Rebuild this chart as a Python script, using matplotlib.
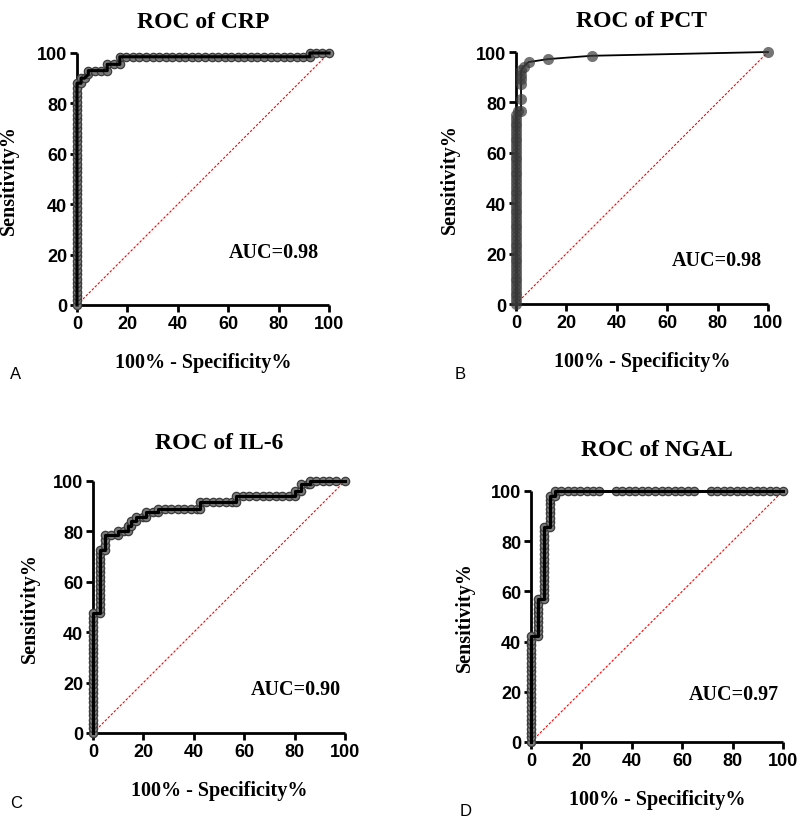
import matplotlib
matplotlib.use("Agg")
import matplotlib.pyplot as plt
from matplotlib import font_manager as fm

# ---------------- data (100% - specificity %, sensitivity %) ----------------
crp_points = [
    (0, 0.0), (0, 1.8), (0, 3.5), (0, 5.3), (0, 7.0), (0, 8.8), (0, 10.5), (0, 12.3), (0, 14.0),
    (0, 15.8), (0, 17.5), (0, 19.3), (0, 21.1), (0, 22.8), (0, 24.6), (0, 26.3), (0, 28.1),
    (0, 29.8), (0, 31.6), (0, 33.3), (0, 35.1), (0, 36.8), (0, 38.6), (0, 40.4), (0, 42.1),
    (0, 43.9), (0, 45.6), (0, 47.4), (0, 49.1), (0, 50.9), (0, 52.6), (0, 54.4), (0, 56.1),
    (0, 57.9), (0, 59.6), (0, 61.4), (0, 63.2), (0, 64.9), (0, 66.7), (0, 68.4), (0, 70.2),
    (0, 71.9), (0, 73.7), (0, 75.4), (0, 77.2), (0, 78.9), (0, 80.7), (0, 82.5), (0, 84.2),
    (0, 86.0), (0, 88.0),
    (1.6, 88.0), (1.6, 90.0), (3.0, 90.0), (4.5, 91.5), (4.5, 93.0), (7.0, 93.0), (9.5, 93.0),
    (12.0, 93.0), (12.0, 95.5), (14.5, 95.5), (17.0, 95.5), (17.0, 98.5),
    (19.6, 98.5), (22.2, 98.5), (24.8, 98.5), (27.4, 98.5), (30.0, 98.5), (32.6, 98.5),
    (35.2, 98.5), (37.8, 98.5), (40.4, 98.5), (43.0, 98.5), (45.6, 98.5), (48.2, 98.5),
    (50.8, 98.5), (53.4, 98.5), (56.0, 98.5), (58.6, 98.5), (61.2, 98.5), (63.8, 98.5),
    (66.4, 98.5), (69.0, 98.5), (71.6, 98.5), (74.2, 98.5), (76.8, 98.5), (79.4, 98.5),
    (82.0, 98.5), (84.6, 98.5), (87.2, 98.5), (89.8, 98.5), (92.4, 98.5),
    (92.4, 100), (94.9, 100), (97.4, 100), (100, 100),
]

pct_points = [
    (0, 0.0), (0, 1.5), (0, 3.0), (0, 4.5), (0, 6.0), (0, 7.5), (0, 9.0), (0, 10.5), (0, 12.0),
    (0, 13.5), (0, 15.0), (0, 16.5), (0, 18.0), (0, 19.5), (0, 21.0), (0, 22.5), (0, 24.0),
    (0, 25.5), (0, 27.0), (0, 28.5), (0, 30.0), (0, 31.5), (0, 33.0), (0, 34.5), (0, 36.0),
    (0, 37.5), (0, 39.0), (0, 40.5), (0, 42.0), (0, 43.5), (0, 45.0), (0, 46.5), (0, 48.0),
    (0, 49.5), (0, 51.0), (0, 52.5), (0, 54.0), (0, 55.5), (0, 57.0), (0, 58.5), (0, 60.0),
    (0, 61.5), (0, 63.0), (0, 64.5), (0, 66.0), (0, 67.5), (0, 69.0), (0, 70.5), (0, 72.0),
    (0, 73.5), (0, 75.0),
    (0.6, 76.7), (2.0, 76.7), (2.0, 81.3), (2.0, 87.5), (2.0, 89.3), (2.0, 91.0), (2.0, 92.7),
    (3.0, 94.2), (5.0, 96.0), (12.8, 97.2), (30.0, 98.5), (100, 100),
]

il6_points = [
    (0, 0.0), (0, 1.8), (0, 3.5), (0, 5.3), (0, 7.0), (0, 8.8), (0, 10.5), (0, 12.3), (0, 14.0),
    (0, 15.8), (0, 17.5), (0, 19.3), (0, 21.1), (0, 22.8), (0, 24.6), (0, 26.3), (0, 28.1),
    (0, 29.8), (0, 31.6), (0, 33.3), (0, 35.1), (0, 36.8), (0, 38.6), (0, 40.4), (0, 42.1),
    (0, 43.9), (0, 45.6), (0, 47.6),
    (2.6, 47.6), (2.6, 49.4), (2.6, 51.2), (2.6, 53.0), (2.6, 54.8), (2.6, 56.6), (2.6, 58.4),
    (2.6, 60.2), (2.6, 62.0), (2.6, 63.8), (2.6, 65.6), (2.6, 67.4), (2.6, 69.2), (2.6, 71.0),
    (2.6, 72.6),
    (4.6, 72.6), (4.6, 74.6), (4.6, 76.5), (4.6, 78.4),
    (7.2, 78.4), (9.8, 78.4), (9.8, 80.3), (12.4, 80.3), (13.9, 80.3), (13.9, 82.1),
    (15.2, 82.1), (15.2, 84.0), (17.2, 84.0), (17.2, 85.8), (19.8, 85.8), (21.2, 85.8),
    (21.2, 87.6), (23.8, 87.6), (25.8, 87.6), (25.8, 89.0), (28.4, 89.0), (31.0, 89.0),
    (33.6, 89.0), (36.2, 89.0), (38.8, 89.0), (41.4, 89.0), (42.3, 89.0), (42.3, 91.5),
    (44.9, 91.5), (47.5, 91.5), (50.1, 91.5), (52.7, 91.5), (55.3, 91.5), (56.9, 91.5),
    (56.9, 94.2), (59.5, 94.2), (62.1, 94.2), (64.7, 94.2), (67.3, 94.2), (69.9, 94.2),
    (72.5, 94.2), (75.1, 94.2), (77.7, 94.2), (80.0, 94.2), (80.0, 96.2), (82.7, 96.2),
    (82.7, 98.8), (85.3, 98.8), (86.0, 98.8), (86.0, 100), (88.6, 100), (91.2, 100),
    (93.8, 100), (96.4, 100), (100, 100),
]

ngal_points = [
    (0, 0.0), (0, 1.8), (0, 3.5), (0, 5.3), (0, 7.0), (0, 8.8), (0, 10.5), (0, 12.3), (0, 14.0),
    (0, 15.8), (0, 17.5), (0, 19.3), (0, 21.1), (0, 22.8), (0, 24.6), (0, 26.3), (0, 28.1),
    (0, 29.8), (0, 31.6), (0, 33.3), (0, 35.1), (0, 36.8), (0, 38.6), (0, 40.4), (0, 42.3),
    (2.7, 42.3), (2.7, 44.1), (2.7, 45.9), (2.7, 47.7), (2.7, 49.5), (2.7, 51.3), (2.7, 53.1),
    (2.7, 54.9), (2.7, 56.9),
    (5.2, 56.9), (5.2, 58.7), (5.2, 60.5), (5.2, 62.3), (5.2, 64.1), (5.2, 65.9), (5.2, 67.7),
    (5.2, 69.5), (5.2, 71.3), (5.2, 73.1), (5.2, 74.9), (5.2, 76.7), (5.2, 78.5), (5.2, 80.3),
    (5.2, 82.1), (5.2, 83.9), (5.2, 85.8),
    (7.6, 85.8), (7.6, 87.6), (7.6, 89.4), (7.6, 91.2), (7.6, 93.0), (7.6, 94.8), (7.6, 96.6),
    (7.6, 98.2), (9.6, 98.2), (9.6, 100),
    (12.1, 100), (14.6, 100), (17.1, 100), (19.6, 100), (22.1, 100), (24.6, 100), (27.1, 100),
    (33.6, 100), (36.2, 100), (38.8, 100), (41.4, 100), (44.0, 100), (46.6, 100), (49.2, 100),
    (51.8, 100), (54.4, 100), (57.0, 100), (59.6, 100), (62.2, 100), (64.8, 100),
    (71.3, 100), (73.9, 100), (76.5, 100), (79.1, 100), (81.7, 100), (84.3, 100), (86.9, 100),
    (89.5, 100), (92.1, 100), (94.7, 100), (97.3, 100), (100, 100),
]

titles = ["ROC of CRP", "ROC of PCT", "ROC of IL-6", "ROC of NGAL"]
auc_labels = ["AUC=0.98", "AUC=0.98", "AUC=0.90", "AUC=0.97"]
panel_letters = ["A", "B", "C", "D"]
ticks = [0, 20, 40, 60, 80, 100]


def find_font(name, bold):
    """Return a file path of a regular-width face of `name`, or None."""
    want = 700 if bold else 400
    best = None
    for f in fm.fontManager.ttflist:
        if f.name != name or f.style != "normal":
            continue
        if "Narrow" in f.fname or "narrow" in f.fname.lower():
            continue
        w = f.weight if isinstance(f.weight, int) else (700 if "bold" in str(f.weight) else 400)
        if w == want:
            return f.fname
        best = best or None
    return best


def props(name, fallback, bold, size):
    path = find_font(name, bold)
    if path:
        return fm.FontProperties(fname=path, size=size)
    return fm.FontProperties(family=fallback, weight="bold" if bold else "normal", size=size)


SANS_B = lambda s: props("Liberation Sans", ["DejaVu Sans"], True, s)
SANS_R = lambda s: props("Liberation Sans", ["DejaVu Sans"], False, s)
SERIF_B = lambda s: props("Liberation Serif", ["DejaVu Serif"], True, s)

# ---------------- layout ----------------
W, H = 800, 820
fig = plt.figure(figsize=(W / 100, H / 100), dpi=100)

# axes boxes in pixels: (left, top, right, bottom)
boxes = [(77, 54, 329, 306), (516, 53, 768, 305), (93, 482, 345, 734), (531, 492, 783, 743)]
auc_pos = [(78.1, 20.9), (79.6, 17.5), (80.4, 17.5), (80.6, 19.1)]
title_pad = [19, 19, 24, 26]
letter_pos = [(10, 375), (455, 375), (10, 804), (460, 812)]
ylabel_x = [-0.230, -0.222, -0.210, -0.222]

all_points = [crp_points, pct_points, il6_points, ngal_points]

for i, pts in enumerate(all_points):
    l, t, r, b = boxes[i]
    ax = fig.add_axes([l / W, (H - b) / H, (r - l) / W, (b - t) / H])
    fpr = [p[0] for p in pts]
    sens = [p[1] for p in pts]

    # reference diagonal
    ax.plot([0, 100], [0, 100], color="red", lw=0.8, ls=(0, (2.2, 1.6)), zorder=1,
            clip_on=False)

    if i == 1:
        ax.plot(fpr, sens, color="black", lw=1.3, zorder=3, clip_on=False)
        ax.plot(fpr, sens, ls="none", marker="o", ms=8, mfc="#3a3a3a", mec="none",
                alpha=0.7, zorder=4, clip_on=False)
    else:
        ax.plot(fpr, sens, ls="none", marker="o", ms=6.0, mfc="#7a7a7a", mec="#3c3c3c",
                mew=0.9, zorder=3, clip_on=False)
        ax.plot(fpr, sens, color="black", lw=2.2, zorder=4, clip_on=False)

    ax.set_xlim(0, 100)
    ax.set_ylim(0, 100)
    ax.set_xticks(ticks)
    ax.set_yticks(ticks)
    for s in ["top", "right"]:
        ax.spines[s].set_visible(False)
    for s in ["left", "bottom"]:
        ax.spines[s].set_linewidth(2.0)
        ax.spines[s].set_capstyle("butt")
    ax.tick_params(direction="out", length=5, width=2.0, pad=2, labelsize=13)
    tp = SANS_B(13)
    for lab in ax.get_xticklabels() + ax.get_yticklabels():
        lab.set_fontproperties(tp)

    ax.set_title(titles[i], fontproperties=SERIF_B(17), pad=title_pad[i])
    ax.set_xlabel("100% - Specificity%", fontproperties=SERIF_B(14.5))
    ax.xaxis.set_label_coords(0.5, -0.187)
    ax.set_ylabel("Sensitivity%", fontproperties=SERIF_B(14.5))
    ax.yaxis.set_label_coords(ylabel_x[i], 0.5)

    ax.text(auc_pos[i][0], auc_pos[i][1], auc_labels[i], fontproperties=SERIF_B(14.5),
            ha="center", va="center")

    lx, ly = letter_pos[i]
    fig.text(lx / W, (H - ly) / H, panel_letters[i], fontproperties=SANS_R(12),
             ha="left", va="center")

fig.savefig("out.png", dpi=100, facecolor="white")
